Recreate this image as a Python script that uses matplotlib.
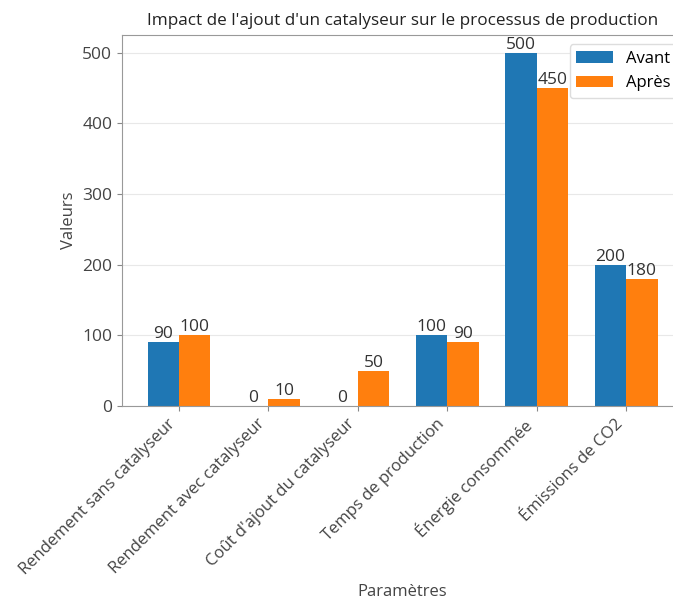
import matplotlib.pyplot as plt
import numpy as np

plt.rcParams['font.family'] = ['Open Sans', 'DejaVu Sans']

categories = [
    "Rendement sans catalyseur",
    "Rendement avec catalyseur",
    "Coût d'ajout du catalyseur",
    "Temps de production",
    "Énergie consommée",
    "Émissions de CO2",
]
avant = [90, 0, 0, 100, 500, 200]
apres = [100, 10, 50, 90, 450, 180]

x = np.arange(len(categories))
width = 0.35

fig = plt.figure(figsize=(6.73, 6.03), dpi=100)
# axes runs slightly past the right edge, as in the reference crop
ax = fig.add_axes([122 / 673, 1 - 406 / 603, 561 / 673, 371 / 603])

b1 = ax.bar(x - width / 2, avant, width, color="#1f77b4", label="Avant", zorder=2)
b2 = ax.bar(x + width / 2, apres, width, color="#ff7f0e", label="Après", zorder=2)
ax.bar_label(b1, fontsize=12.5, color="#333333", padding=0)
ax.bar_label(b2, fontsize=12.5, color="#333333", padding=0)

ax.set_xticks(x)
ax.set_xticklabels(categories, rotation=45, ha="right", fontsize=12, color="#444444")
ax.tick_params(axis="y", labelsize=12.5, labelcolor="#444444", color="#888888")
ax.tick_params(axis="x", color="#888888")
ax.set_yticks([0, 100, 200, 300, 400, 500])

ax.set_xlabel("Paramètres", fontsize=12, color="#444444")
ax.xaxis.set_label_coords(0.5, -0.48)
ax.set_ylabel("Valeurs", fontsize=12, color="#444444")
ax.set_title("Impact de l'ajout d'un catalyseur sur le processus de production",
             fontsize=12.3, color="#222222", pad=7)

ax.yaxis.grid(True, color="#e8e8e8", linewidth=0.8, zorder=0)
ax.set_axisbelow(True)
for s in ax.spines.values():
    s.set_color("#999999")
ax.spines["right"].set_visible(False)

ax.legend(loc="upper right", bbox_to_anchor=(1.019, 1 - 36 / 603),
          bbox_transform=fig.transFigure, fontsize=12, framealpha=1,
          edgecolor="#dddddd", handlelength=2.2)

fig.savefig("out.png", dpi=100)
